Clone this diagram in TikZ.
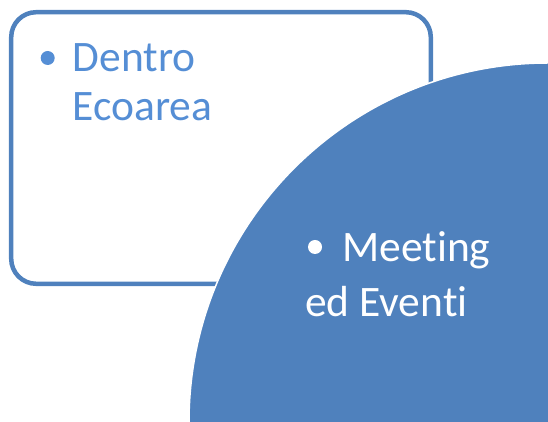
\documentclass[tikz,border=0pt]{standalone}
\usepackage{fontspec}
\setmainfont{Carlito}[Ligatures=CommonOff]
\usetikzlibrary{positioning}
\definecolor{ecoblue}{RGB}{79,129,189}
\definecolor{ecotext}{RGB}{85,142,213}

\begin{document}
\begin{tikzpicture}[x=1pt,y=1pt]
\tikzstyle{panel}=[draw=ecoblue,line width=4.5pt,rounded corners=25pt]
\tikzstyle{label}=[inner sep=0pt,anchor=base west,font=\fontsize{43.5}{49}\selectfont]
\tikzstyle{dot}=[circle,inner sep=0pt,minimum size=14pt]
% end of definitions
\useasboundingbox (0,0) rectangle (548,422);
\draw[panel] (11.2,409.8) rectangle (430.8,138.2); %box
\begin{scope}
\clip (0,0) rectangle (548,422);
\filldraw[fill=ecoblue,draw=white,line width=1.5pt] (548,0) circle (359pt); %quarter disc
\end{scope}
\node[dot,fill=ecotext] (bulletA) at (47.7,364) {};
\node[label,text=ecotext] (dentro) at (72.7,350.3) {Dentro};
\node[label,text=ecotext] (ecoarea) at (72.7,301.3) {Ecoarea};
\node[dot,fill=white] (bulletB) at (315,175) {};
\node[label,text=white] (meeting) at (342,160) {Meeting};
\node[label,text=white] (eventi) at (305,105) {ed Eventi};
\end{tikzpicture}
\end{document}
